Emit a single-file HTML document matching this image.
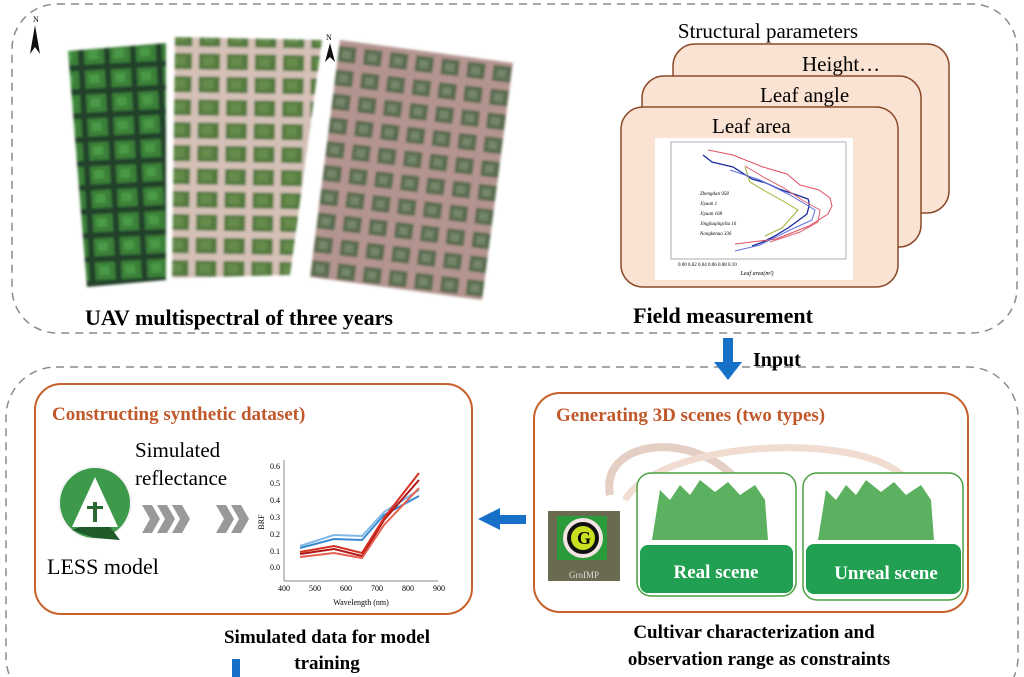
<!DOCTYPE html>
<html><head><meta charset="utf-8"><style>
html,body{margin:0;padding:0;background:#fff}
svg{display:block}
text{font-family:"Liberation Serif",serif}
</style></head><body>
<svg width="1024" height="677" viewBox="0 0 1024 677" xmlns="http://www.w3.org/2000/svg">
<defs>
<pattern id="p1" width="26" height="24" patternUnits="userSpaceOnUse" patternTransform="rotate(-3)">
<rect width="26" height="24" fill="#24402a"/><rect x="3" y="3" width="20" height="18" fill="#3a8038"/><rect x="7" y="7" width="10" height="9" fill="#4c9a46"/></pattern>
<pattern id="p2" width="28" height="23" patternUnits="userSpaceOnUse" patternTransform="rotate(1)">
<rect width="28" height="23" fill="#d4c0b6"/><rect x="4" y="4" width="21" height="16" fill="#557a40"/><rect x="8" y="7" width="11" height="9" fill="#668c4c"/></pattern>
<pattern id="p3" width="26" height="24" patternUnits="userSpaceOnUse" patternTransform="rotate(7)">
<rect width="26" height="24" fill="#b49490"/><rect x="4" y="4" width="18" height="16" fill="#5a6c50"/><rect x="8" y="8" width="9" height="8" fill="#74866a"/></pattern>
<filter id="bl"><feGaussianBlur stdDeviation="1.2"/></filter>
</defs>

<rect x="12" y="4" width="1005" height="329" rx="45" fill="none" stroke="#8a8a8a" stroke-width="1.5" stroke-dasharray="8,6"/>
<rect x="6" y="367" width="1012" height="340" rx="50" fill="none" stroke="#8a8a8a" stroke-width="1.5" stroke-dasharray="8,6"/>

<g filter="url(#bl)">
<polygon points="68,51 166,43 166,280 87,287" fill="url(#p1)"/>
<polygon points="175,37 322,40 290,275 172,278" fill="url(#p2)"/>
<polygon points="340,40 513,63 482,300 310,277" fill="url(#p3)"/>
</g>
<text x="33" y="22" font-size="8" font-family="Liberation Sans">N</text>
<polygon points="35,25 30,54 35,47 40,54" fill="#111"/>
<text x="326" y="40" font-size="8" font-family="Liberation Sans">N</text>
<polygon points="330,43 325,62 330,57 335,62" fill="#111"/>
<text x="239" y="325" font-size="22" font-weight="bold" text-anchor="middle">UAV multispectral of three years</text>

<text x="768" y="38" font-size="21" text-anchor="middle">Structural parameters</text>
<rect x="673" y="44" width="276" height="169" rx="22" fill="#fbe3d3" stroke="#8c4a2a" stroke-width="1.5"/>
<text x="802" y="71" font-size="21">Height…</text>
<rect x="642" y="76" width="279" height="171" rx="22" fill="#fbe3d3" stroke="#8c4a2a" stroke-width="1.5"/>
<text x="760" y="102" font-size="21">Leaf angle</text>
<rect x="621" y="107" width="277" height="180" rx="22" fill="#fbe3d3" stroke="#8c4a2a" stroke-width="1.5"/>
<text x="712" y="133" font-size="21">Leaf area</text>
<rect x="655" y="138" width="198" height="142" fill="#fff"/>
<rect x="671" y="142" width="175" height="117" fill="none" stroke="#999" stroke-width="0.8"/>
<polyline points="703,155 712,162 733,167 752,179 766,183 779,189 791,193 808,199 809,202 809,206 807,214 799,220 788,228 773,237 763,242 752,246" fill="none" stroke="#1a2a9a" stroke-width="1.3"/>
<polyline points="708,150 733,155 763,167 787,174 800,185 819,190 830,198 832,206 828,214 809,226 776,239 735,244" fill="none" stroke="#e05060" stroke-width="1"/>
<polyline points="745,166 765,178 784,188 802,200 820,210 818,222 800,232 770,242" fill="none" stroke="#e06070" stroke-width="1"/>
<polyline points="745,167 750,182 765,191 783,201 798,210 782,228 765,236" fill="none" stroke="#a0b030" stroke-width="1"/>
<polyline points="730,170 760,180 790,195 815,210 812,220 790,230 760,245 735,251" fill="none" stroke="#6070e0" stroke-width="1"/>
<text x="757" y="275" font-size="6" text-anchor="middle" font-style="italic">Leaf area(m²)</text>
<text x="678" y="266" font-size="5">0.00    0.02    0.04    0.06    0.08    0.10</text>
<text x="700" y="195" font-size="5" font-style="italic">Zhengdan 958</text>
<text x="700" y="205" font-size="5" font-style="italic">Jiyuan 1</text>
<text x="700" y="215" font-size="5" font-style="italic">Jiyuan 168</text>
<text x="700" y="225" font-size="5" font-style="italic">Jingjiuqingchu 16</text>
<text x="700" y="235" font-size="5" font-style="italic">Nongkenuo 336</text>
<text x="723" y="323" font-size="22" font-weight="bold" text-anchor="middle">Field measurement</text>

<rect x="723" y="338" width="10" height="26" fill="#1670c8"/>
<polygon points="714,362 742,362 728,380" fill="#1670c8"/>
<text x="753" y="366" font-size="20" font-weight="bold">Input</text>

<rect x="35" y="384" width="437" height="230" rx="26" fill="#fff" stroke="#c8602a" stroke-width="2"/>
<text x="52" y="420" font-size="19" font-weight="bold" fill="#c0582a">Constructing synthetic dataset)</text>
<text x="135" y="457" font-size="21">Simulated</text>
<text x="135" y="485" font-size="21">reflectance</text>
<circle cx="95" cy="503" r="37" fill="#f4f4f4"/>
<circle cx="95" cy="503" r="35" fill="#3c9a4a"/>
<polygon points="80,527 110,527 120,540 95,538 72,530" fill="#1f5a2a"/>
<polygon points="95,477 118,527 72,527" fill="#fff"/>
<rect x="93" y="502" width="4" height="20" fill="#2a6a32"/>
<rect x="87" y="506" width="16" height="3" fill="#2a6a32"/>
<text x="47" y="574" font-size="22">LESS model</text>
<g fill="#999">
<polygon points="142,505 152,505 160,519 152,533 142,533 150,519"/>
<polygon points="157,505 167,505 175,519 167,533 157,533 165,519"/>
<polygon points="172,505 182,505 190,519 182,533 172,533 180,519"/>
<polygon points="216,505 226,505 234,519 226,533 216,533 224,519"/>
<polygon points="231,505 241,505 249,519 241,533 231,533 239,519"/>
</g>
<line x1="284" y1="460" x2="284" y2="581" stroke="#888"/>
<line x1="284" y1="581" x2="438" y2="581" stroke="#888"/>
<g font-size="8" text-anchor="end"><text x="280" y="469">0.6</text><text x="280" y="486">0.5</text><text x="280" y="503">0.4</text><text x="280" y="520">0.3</text><text x="280" y="537">0.2</text><text x="280" y="554">0.1</text><text x="280" y="570">0.0</text></g>
<g font-size="8" text-anchor="middle"><text x="284" y="591">400</text><text x="315" y="591">500</text><text x="346" y="591">600</text><text x="377" y="591">700</text><text x="408" y="591">800</text><text x="439" y="591">900</text></g>
<text x="361" y="605" font-size="8" text-anchor="middle">Wavelength (nm)</text>
<text x="264" y="522" font-size="8" transform="rotate(-90 264 522)" text-anchor="middle">BRF</text>
<g fill="none" stroke-width="2">
<polyline points="300,548 334,539 362,540 384,515 419,496" stroke="#3a8ad0"/>
<polyline points="300,546 334,535 362,536 384,512 419,490" stroke="#80b8e6"/>
<polyline points="300,554 334,549 362,556 384,520 419,480" stroke="#b01818"/>
<polyline points="300,557 334,553 362,558 384,525 419,488" stroke="#e86050"/>
<polyline points="300,552 334,546 362,553 384,518 419,473" stroke="#d83020"/>
</g>

<rect x="496" y="515" width="30" height="9" fill="#1670c8"/>
<polygon points="478,519 500,508 500,530" fill="#1670c8"/>

<rect x="534" y="393" width="434" height="219" rx="26" fill="#fff" stroke="#c8602a" stroke-width="2"/>
<text x="556" y="421" font-size="19" font-weight="bold" fill="#c0582a">Generating 3D scenes (two types)</text>
<path d="M610,495 C600,440 690,430 735,478" fill="none" stroke="#e4cfc4" stroke-width="8"/>
<polygon points="726,482 746,478 742,496" fill="#f0d0c0"/>
<path d="M625,500 C660,440 860,430 905,478" fill="none" stroke="#f0dcd0" stroke-width="7"/>
<polygon points="896,482 916,478 912,496" fill="#f0d8cc"/>
<rect x="548" y="511" width="72" height="70" fill="#6a6a50"/>
<rect x="557" y="516" width="50" height="44" fill="#2a9a3a"/>
<circle cx="583" cy="538" r="20" fill="#f4e4e4"/>
<circle cx="583" cy="538" r="14" fill="#c8e020" stroke="#111" stroke-width="4"/>
<text x="584" y="544" font-size="18" font-weight="bold" font-family="Liberation Sans" text-anchor="middle">G</text>
<text x="584" y="578" font-size="9" fill="#ddd" font-family="Liberation Sans" text-anchor="middle">GroIMP</text>

<rect x="637" y="473" width="159" height="123" rx="14" fill="#fff" stroke="#4aa040" stroke-width="1.5"/>
<path d="M652,540 L660,490 L670,500 L680,485 L690,495 L700,480 L715,492 L728,482 L740,495 L755,485 L765,500 L768,540 Z" fill="#4aa850" opacity="0.9"/>
<rect x="640" y="545" width="153" height="48" rx="8" fill="#20a050"/>
<text x="716" y="578" font-size="19" font-weight="bold" fill="#fff" text-anchor="middle">Real scene</text>

<rect x="803" y="473" width="160" height="127" rx="14" fill="#fff" stroke="#4aa040" stroke-width="1.5"/>
<path d="M818,540 L826,490 L836,500 L846,485 L856,495 L866,480 L881,492 L894,482 L906,495 L921,485 L931,500 L934,540 Z" fill="#4aa850" opacity="0.9"/>
<rect x="806" y="544" width="155" height="50" rx="8" fill="#20a050"/>
<text x="886" y="579" font-size="19" font-weight="bold" fill="#fff" text-anchor="middle">Unreal scene</text>

<text x="754" y="638" font-size="19" font-weight="bold" text-anchor="middle">Cultivar characterization and</text>
<text x="759" y="665" font-size="19" font-weight="bold" text-anchor="middle">observation range as constraints</text>

<text x="327" y="643" font-size="19" font-weight="bold" text-anchor="middle">Simulated data for model</text>
<text x="327" y="669" font-size="19" font-weight="bold" text-anchor="middle">training</text>
<rect x="232" y="659" width="8" height="18" fill="#1670c8"/>
</svg>
</body></html>
